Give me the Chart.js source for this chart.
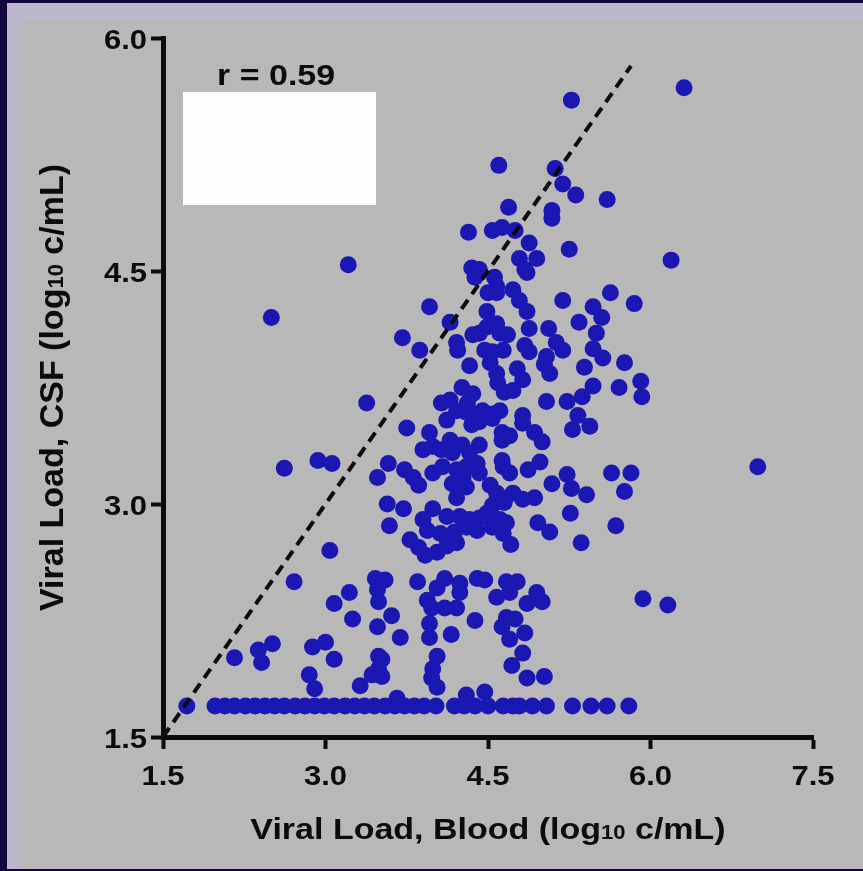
<!DOCTYPE html>
<html>
<head>
<meta charset="utf-8">
<title>Viral load, CSF vs blood</title>
<script src="https://cdn.jsdelivr.net/npm/chart.js@4/dist/chart.umd.min.js"></script>
<style>
  html, body { margin: 0; padding: 0; }
  body { width: 863px; height: 871px; background: #13063f; position: relative; overflow: hidden; }
  #band { position: absolute; left: 7px; top: 3px; right: 0; bottom: 2px; background: #bbb7ca; }
  #panel { position: absolute; left: 22px; top: 20px; right: 0; bottom: 2px; background: #b8b8b8; }
  #chart { position: absolute; left: 0; top: 0; }
</style>
</head>
<body>
<div id="band"></div>
<div id="panel"></div>
<canvas id="chart" width="863" height="871"></canvas>
<script>
// [blood, csf] pairs, log10 copies/mL, grouped by CSF level
const upperPoints = [
  [6.31,5.68],[5.27,5.60],[4.60,5.18],[5.12,5.16],[5.19,5.06],[5.31,4.99],[5.60,4.96],[4.69,4.91],
  [5.09,4.89],[5.09,4.84],[4.32,4.75],[4.54,4.76],[4.63,4.78],[4.75,4.76],[4.88,4.68],[5.25,4.64],
  [4.79,4.58],[4.95,4.58],[3.21,4.54],[6.19,4.57],[4.84,4.51],[4.86,4.49],[4.35,4.52],[4.42,4.51],
  [4.38,4.46],[4.56,4.46],[4.58,4.40],[4.50,4.36],[4.58,4.36],[4.73,4.38],[5.63,4.36],[5.19,4.31],
  [4.79,4.31],[4.86,4.24],[5.85,4.29],[5.47,4.27],[5.55,4.20],[5.34,4.17],[3.96,4.27],[2.50,4.20],
  [4.49,4.24],[4.15,4.17],[4.49,4.14],[4.58,4.16],[4.42,4.10],[4.61,4.10],[4.68,4.09],[4.36,4.09],
  [4.88,4.13],[5.06,4.13],[5.50,4.10],[3.71,4.07],[4.21,4.04],[4.84,4.02],[5.13,4.04],[5.47,4.00]
];
const midHighPoints = [
  [3.87,3.99],[4.22,3.99],[4.47,3.99],[4.54,3.98],[4.64,3.99],[4.88,3.98],[5.19,3.99],[5.56,3.94],
  [5.04,3.95],[5.76,3.91],[4.33,3.89],[4.52,3.91],[4.58,3.84],[4.77,3.87],[4.82,3.80],[5.02,3.90],
  [5.07,3.84],[5.39,3.88],[4.26,3.75],[4.36,3.71],[4.31,3.65],[4.07,3.65],[4.15,3.67],[4.59,3.78],
  [4.65,3.72],[4.73,3.73],[5.04,3.66],[5.23,3.66],[5.37,3.69],[5.47,3.76],[5.71,3.75],[5.91,3.79],
  [5.92,3.69],[3.38,3.65],[4.21,3.60],[4.30,3.59],[4.40,3.58],[4.45,3.60],[4.54,3.58],[4.61,3.60],
  [4.12,3.54],[4.35,3.51],[4.42,3.53],[4.54,3.55],[4.82,3.57],[4.82,3.52],[5.33,3.57],[5.28,3.48],
  [5.44,3.50],[3.75,3.49],[3.96,3.46],[4.63,3.46],[4.70,3.44],[4.63,3.41],[4.93,3.46],[5.00,3.40],
  [4.15,3.41],[4.26,3.38],[4.42,3.38],[4.33,3.33],[3.90,3.35],[3.99,3.37],[4.07,3.35],[4.17,3.33],
  [3.58,3.26],[3.73,3.22],[3.81,3.17],[3.86,3.12],[3.99,3.20],[4.08,3.24],[4.21,3.22],[4.30,3.24],
  [4.40,3.26],[4.42,3.20],[4.63,3.28],[4.64,3.24],[4.70,3.20],[4.87,3.22],[4.98,3.27],[3.48,3.17],
  [2.62,3.23],[2.93,3.28],[3.06,3.26],[5.64,3.20],[5.82,3.20],[5.23,3.19],[6.99,3.24],[4.17,3.13],
  [4.27,3.17],[4.30,3.11],[4.52,3.12],[4.58,3.07],[5.09,3.13],[5.27,3.10],[5.41,3.06],[5.76,3.08],
  [3.57,3.00],[4.21,3.04],[4.73,3.07],[4.82,3.03],[4.93,3.04],[4.65,3.01]
];
const midLowPoints = [
  [3.72,2.97],[4.54,2.99],[3.99,2.97],[3.90,2.90],[4.12,2.92],[4.24,2.92],[4.33,2.90],[4.42,2.91],
  [4.49,2.94],[4.61,2.90],[4.67,2.88],[5.26,2.94],[3.59,2.86],[3.94,2.83],[4.06,2.81],[4.19,2.82],
  [4.30,2.85],[4.40,2.83],[4.54,2.85],[4.64,2.81],[3.78,2.77],[3.86,2.72],[3.92,2.67],[4.03,2.69],
  [4.12,2.73],[4.21,2.75],[4.71,2.74],[4.96,2.88],[5.07,2.82],[5.36,2.75],[5.68,2.86],[3.04,2.70],
  [2.71,2.50],[3.46,2.52],[3.55,2.51],[3.85,2.50],[3.48,2.45],[3.49,2.37],[3.22,2.43],[3.08,2.36],
  [3.25,2.26],[3.61,2.28],[4.10,2.52],[4.03,2.46],[3.94,2.38],[3.98,2.33],[4.24,2.49],[4.24,2.43],
  [4.21,2.33],[4.40,2.52],[4.47,2.51],[4.10,2.33],[4.58,2.40],[4.67,2.50],[4.70,2.43],[4.77,2.50],
  [4.95,2.43],[5.00,2.37],[4.86,2.36],[4.67,2.27],[4.75,2.26],[4.63,2.21],[4.38,2.25],[5.93,2.39],
  [6.16,2.35],[3.48,2.21],[3.69,2.14],[3.96,2.23],[3.96,2.14],[4.16,2.16],[4.70,2.13],[4.84,2.17],
  [4.82,2.04],[3.49,2.02],[3.52,2.00],[4.03,2.02],[2.16,2.01],[2.38,2.06],[2.51,2.10],[2.88,2.08],
  [3.00,2.11],[3.08,2.00]
];
const lowPoints = [
  [4.72,1.96],[4.86,1.88],[5.02,1.89],[3.49,1.94],[3.32,1.83],[3.43,1.90],[3.52,1.89],[3.99,1.94],
  [3.98,1.88],[4.03,1.82],[2.41,1.98],[2.85,1.90],[2.90,1.81],[3.66,1.75],[4.30,1.77],[4.47,1.79]
];
// CSF below the assay limit
const limitPoints = [
  [1.72,1.70],[1.98,1.70],[2.07,1.70],[2.16,1.70],[2.26,1.70],[2.35,1.70],[2.44,1.70],[2.53,1.70],
  [2.62,1.70],[2.72,1.70],[2.81,1.70],[2.90,1.70],[2.99,1.70],[3.08,1.70],[3.18,1.70],[3.27,1.70],
  [3.36,1.70],[3.45,1.70],[3.55,1.70],[3.64,1.70],[3.73,1.70],[3.82,1.70],[3.91,1.70],[4.02,1.70],
  [4.19,1.70],[4.28,1.70],[4.38,1.70],[4.50,1.70],[4.64,1.70],[4.73,1.70],[4.79,1.70],[4.91,1.70],
  [5.04,1.70],[5.28,1.70],[5.45,1.70],[5.60,1.70],[5.80,1.70]
];

// line of identity (CSF = blood)
const identityLine = [1.5, 5.82];

const xTicks = [1.5, 3.0, 4.5, 6.0, 7.5];
const yTicks = [1.5, 3.0, 4.5, 6.0];
const rLabel = 'r = 0.59';
const xTitle = [['Viral Load, Blood (log', 'main'], ['10', 'sub'], [' c/mL)', 'main']];
const yTitle = [['Viral Load, CSF (log', 'main'], ['10', 'sub'], [' c/mL)', 'main']];

const FONT = '"Liberation Sans", Arial, sans-serif';
const INK = '#0b0b0b';
const DOT = '#1b17b3';
const SIZES = { main: 34, sub: 22 };
const SQUASH = 0.88; // horizontal lettering is a little flattened

const allPoints = [...upperPoints, ...midHighPoints, ...midLowPoints, ...lowPoints, ...limitPoints];

// text on a shared baseline, centred on (cx, cy), optionally flattened
function drawTitle(ctx, parts, cx, cy, angle, sy) {
  ctx.save();
  ctx.translate(cx, cy);
  ctx.rotate(angle);
  ctx.scale(1, sy);
  ctx.textAlign = 'left';
  ctx.textBaseline = 'alphabetic';
  const widths = parts.map(([t, k]) => {
    ctx.font = `bold ${SIZES[k]}px ${FONT}`;
    return ctx.measureText(t).width;
  });
  let x = -widths.reduce((a, b) => a + b, 0) / 2;
  parts.forEach(([t, k], i) => {
    ctx.font = `bold ${SIZES[k]}px ${FONT}`;
    ctx.fillText(t, x, 0);
    x += widths[i];
  });
  ctx.restore();
}

function drawFlat(ctx, text, x, y, align, size) {
  ctx.save();
  ctx.translate(x, y);
  ctx.scale(1, SQUASH);
  ctx.font = `bold ${size}px ${FONT}`;
  ctx.textAlign = align;
  ctx.textBaseline = 'alphabetic';
  ctx.fillText(text, 0, 0);
  ctx.restore();
}

const overlay = {
  id: 'overlay',
  afterDraw(chart) {
    const { ctx, chartArea: a } = chart;
    const sx = chart.scales.x, sy = chart.scales.y;
    ctx.save();
    ctx.fillStyle = '#fcfdff';
    ctx.fillRect(a.left + 20, a.top + 54, 193, 113);
    ctx.fillStyle = INK;
    drawFlat(ctx, rLabel, a.left + 54, a.top + 47, 'left', 34);
    // tick labels, placed from the scales
    sx.ticks.forEach(t => drawFlat(ctx, t.value.toFixed(1), sx.getPixelForValue(t.value), a.bottom + 48, 'center', 31));
    sy.ticks.forEach(t => drawFlat(ctx, t.value.toFixed(1), a.left - 16, sy.getPixelForValue(t.value) + 11, 'right', 31));
    drawTitle(ctx, xTitle, (a.left + a.right) / 2, 839, 0, SQUASH);
    drawTitle(ctx, yTitle, 63, (a.top + a.bottom) / 2, -Math.PI / 2, 1);
    ctx.restore();
  }
};

const tickFont = { family: FONT, size: 30, weight: 'bold' };

new Chart(document.getElementById('chart'), {
  type: 'scatter',
  data: {
    datasets: [
      {
        data: identityLine.map(v => ({ x: v, y: v })),
        showLine: true,
        borderColor: INK,
        borderWidth: 4,
        borderDash: [11, 7],
        pointRadius: 0
      },
      {
        data: allPoints.map(([x, y]) => ({ x, y })),
        backgroundColor: DOT,
        borderColor: DOT,
        borderWidth: 0,
        pointRadius: 8.5
      }
    ]
  },
  options: {
    responsive: false,
    animation: false,
    layout: { padding: { left: 0, top: 38, right: 50, bottom: 0 } },
    plugins: { legend: { display: false }, tooltip: { enabled: false } },
    scales: {
      x: {
        type: 'linear',
        min: 1.5,
        max: 7.5,
        afterBuildTicks: s => { s.ticks = xTicks.map(v => ({ value: v })); },
        afterFit: s => { s.height = 134; },
        ticks: { callback: v => v.toFixed(1), font: tickFont, color: 'rgba(0,0,0,0)', padding: 6 },
        grid: { drawOnChartArea: false, tickLength: 12, tickWidth: 4, color: INK },
        border: { color: INK, width: 5 }
      },
      y: {
        type: 'linear',
        min: 1.5,
        max: 6.0,
        afterBuildTicks: s => { s.ticks = yTicks.map(v => ({ value: v })); },
        afterFit: s => { s.width = 163; },
        ticks: { callback: v => v.toFixed(1), font: tickFont, color: 'rgba(0,0,0,0)', padding: 6 },
        grid: { drawOnChartArea: false, tickLength: 12, tickWidth: 4, color: INK },
        border: { color: INK, width: 5 }
      }
    }
  },
  plugins: [overlay]
});
</script>
</body>
</html>
